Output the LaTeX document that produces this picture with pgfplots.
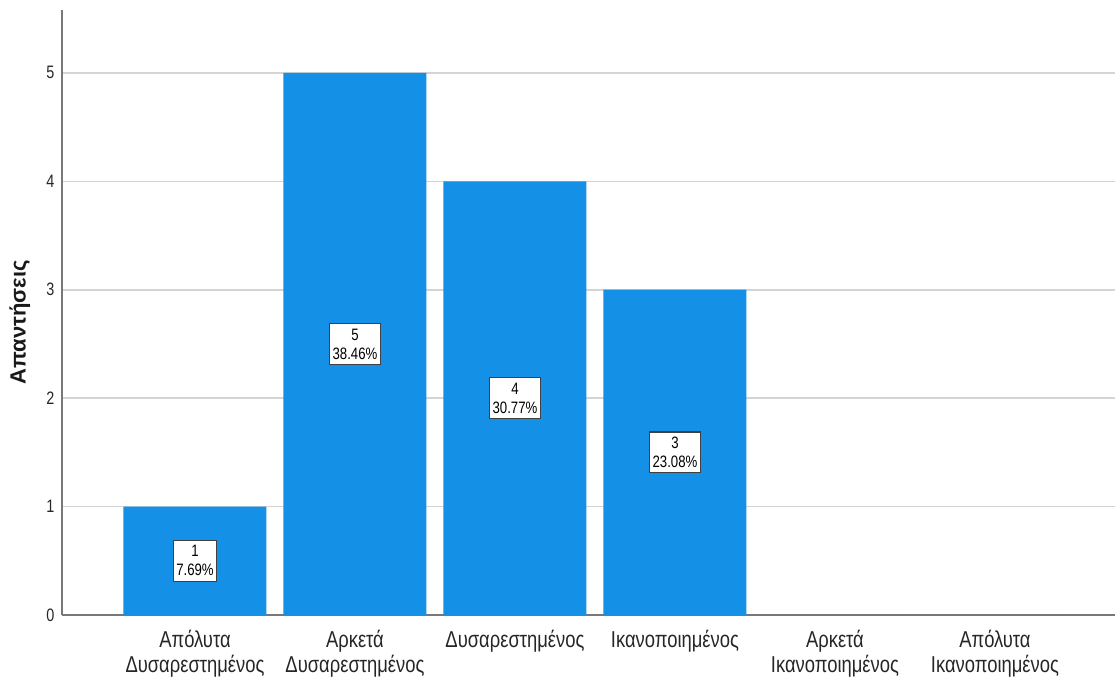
\documentclass[border=0pt]{standalone}
\usepackage{fontspec}
\setmainfont{Liberation Sans}[FakeStretch=0.8]
\newfontfamily\ylabfont{Liberation Sans}
\usepackage{pgfplots}
\pgfplotsset{compat=1.18}
\definecolor{barblue}{RGB}{20,144,230}
\definecolor{gridgray}{RGB}{212,212,212}
\definecolor{axgray}{RGB}{120,120,120}
\begin{document}
\begin{tikzpicture}
\begin{axis}[
  at={(0,0)}, anchor=south west,
  scale only axis,
  width=1053pt, height=605pt,
  xmin=-0.83125, xmax=5.75,
  ymin=0, ymax=5.58,
  axis x line*=bottom, axis y line*=left,
  axis line style={axgray, line width=1.3pt},
  ymajorgrids,
  grid style={gridgray, line width=1.6pt},
  major tick length=0pt,
  ytick={0,1,2,3,4,5},
  xtick={0,1,2,3,4,5},
  xticklabels={{Απόλυτα\\Δυσαρεστημένος},{Αρκετά\\Δυσαρεστημένος},{Δυσαρεστημένος},{Ικανοποιημένος},{Αρκετά\\Ικανοποιημένος},{Απόλυτα\\Ικανοποιημένος}},
  x tick label style={align=center, font=\fontsize{23}{25}\selectfont, text=black!85, anchor=north, yshift=-12pt},
  y tick label style={font=\fontsize{18}{20}\selectfont, text=black!85, xshift=-4pt},
  /pgf/number format/assume math mode=true,
  ylabel={Απαντήσεις},
  every axis y label/.style={at={(axis description cs:-0.04,0.484)}, rotate=90, anchor=center,
     font=\fontsize{22}{24}\ylabfont\bfseries, text=black!90},
  clip=false,
]
\addplot[ybar, bar width=143pt, bar shift=0pt, fill=barblue, draw=none]
  coordinates {(0,1) (1,5) (2,4) (3,3) (4,0) (5,0)};
\addplot[draw=none, mark=none, point meta=explicit symbolic,
  nodes near coords,
  every node near coord/.style={anchor=center, align=center, fill=white,
    draw=black!75, line width=1.1pt, inner xsep=3pt, inner ysep=5pt,
    font=\fontsize{16.5}{19}\selectfont, text=black}]
  coordinates {(0,0.5) [{1\\7.69\%}] (1,2.5) [{5\\38.46\%}] (2,2) [{4\\30.77\%}] (3,1.5) [{3\\23.08\%}]};
\end{axis}
\pgfresetboundingbox
\path (-62pt,-66pt) rectangle (1053pt,615pt);
\end{tikzpicture}
\end{document}
